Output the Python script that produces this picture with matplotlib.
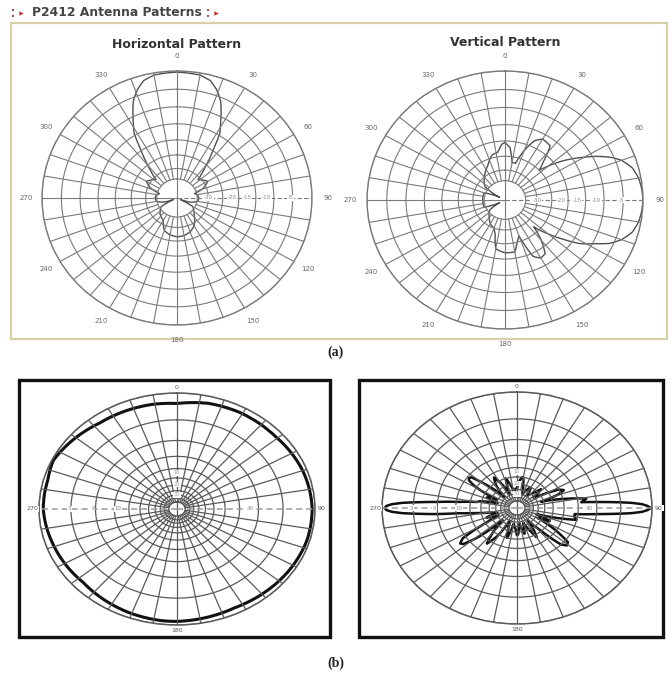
import matplotlib.pyplot as plt
import numpy as np
from matplotlib.path import Path
from matplotlib.patches import PathPatch

# antenna pattern data, (angle deg clockwise from top, gain dB)

# (a) left: horizontal pattern
h_ang = [0, 10, 15, 19, 23, 25, 28, 32, 35, 39, 42, 47, 52, 60, 68, 75, 82, 90,
         100, 108, 115, 120, 135, 150, 160, 170, 180, 190, 200, 210, 225, 240,
         245, 252, 260, 270, 278, 285, 292, 300, 308, 313, 318, 321, 325, 328,
         332, 335, 337, 341, 345, 350]
h_db = [-0.3, -0.6, -1.5, -3.4, -6, -8, -11, -14.5, -19.5, -24, -27, -31, -30,
        -28.5, -31, -36, -34.5, -34, -34.5, -38, -43, -36, -33, -29, -27.5,
        -26.7, -26.5, -27, -28, -31.5, -33, -36, -43, -38, -34.5, -34, -34.5,
        -36, -31, -28.5, -30, -31, -27, -24, -19.5, -14.5, -11, -8, -6, -3.4,
        -1.5, -0.6]

# (a) right: vertical pattern
v_ang = [0, 5, 10, 15, 20, 25, 30, 38, 43, 47, 50, 54, 60, 63, 67, 70, 75, 80,
         85, 90, 95, 100, 105, 110, 114, 117, 122, 126, 130, 135, 140, 145, 150,
         155, 160, 165, 170, 180, 190, 195, 200, 210, 220, 235, 242, 250, 270,
         290, 298, 305, 320, 335, 345, 352, 357]
v_db = [-20.5, -22, -27, -27, -22, -18, -16.5, -17, -22, -25, -22, -17.7, -12,
        -9, -5.5, -3.5, -1.5, -0.6, -0.2, 0, -0.2, -0.6, -1.5, -3.5, -6, -9,
        -13, -17.7, -22, -27, -22, -18, -17.5, -19, -27, -25, -22, -22, -23,
        -28, -30, -31, -33, -36, -42, -34, -34, -34, -42, -33, -30, -27, -24,
        -23.5, -21]

# (b) left
bl_ang = [0, 14, 29, 49, 70, 90, 106, 124, 154, 180, 187, 201, 227, 252, 270,
          285, 295, 323, 349]
bl_db = [-1.8, -1.2, -1.0, -1.0, -0.6, -0.4, -0.4, -0.6, -1.0, -0.6, -0.6,
         -0.8, -1.4, -1.0, -0.6, -0.6, -0.2, -1.4, -1.6]

# (b) right
br_ang = [0, 4, 8, 10, 13, 18, 24, 30, 35, 42, 48, 53, 58, 63, 66, 69, 73, 78,
          81, 84, 85, 86, 87, 88, 89, 90, 91, 92, 93, 94, 95, 97, 100, 103, 106,
          110, 115, 119, 124, 128, 131, 134, 138, 143, 148, 150, 153, 160, 166,
          172, 178, 180, 183, 190, 196, 200, 206, 211, 216, 220, 225, 229, 232,
          234, 237, 241, 246, 250, 254, 259, 262, 264, 265, 266, 267, 268, 269,
          270, 271, 272, 273, 274, 275, 277, 280, 282, 286, 292, 296, 301, 304,
          306, 308, 311, 316, 322, 327, 331, 336, 342, 346, 352, 356]
br_db = [-34, -28, -25, -25, -30, -40, -34, -30, -38, -34, -27, -36, -30, -20,
         -18.4, -21, -32, -18, -12.4, -14, -10, -6.2, -3.1, -1.4, -0.6, -0.2,
         -0.6, -1.4, -3.1, -6.2, -9.7, -16, -16, -15, -22, -36, -25, -33, -20,
         -14, -13.5, -15, -26, -38, -26, -23.5, -28, -38, -28, -38, -28, -27.5,
         -32, -38, -25, -32, -40, -24, -18.4, -24, -36, -18, -13, -12.4, -14,
         -26, -36, -27, -36, -30, -22, -16, -9.7, -6.2, -3.1, -1.4, -0.6, -0.4,
         -0.6, -1.4, -3.1, -6.2, -9.7, -16, -22.9, -24, -36, -27, -34, -19, -16,
         -15.6, -16, -22, -38, -26, -22, -27, -38, -25, -30, -38, -34]

angle_labels = ['0', '30', '60', '90', '120', '150', '180', '210', '240',
                '270', '300', '330']
top_rings_db = [-35, -30, -25, -20, -15, -10, -5, 0]
top_scale_labels = ['-30', '-20', '-15', '-10', '-5']
top_scale_pos = [-30, -22, -17.5, -12, -5.5]
bot_rings_db = [0, -5, -10, -15, -20, -25, -30, -35, -40, -45]
bot_left_labels = ['3', '6', '10']
bot_left_pos = [-4.7, -9.4, -16]
bot_up_labels = ['10', '20', '30']
bot_up_pos = [-22, -29.5, -40]


def r_top(db):
    db = np.asarray(db, dtype=float)
    x = np.clip((db + 35) / 35, 0, None)
    return np.where(db >= -35, 0.15 + 0.85 * x ** 1.2, 0.15 + 0.015 * (db + 35))


def r_bot(db):
    return 0.9 ** (-np.asarray(db, dtype=float) / 2)


W, H = 672, 675
fig = plt.figure(figsize=(W / 100, H / 100), dpi=100)
bg = fig.add_axes([0, 0, 1, 1])
bg.set_xlim(0, W)
bg.set_ylim(H, 0)
bg.axis('off')

# page decorations
bg.add_patch(plt.Rectangle((11, 23), 656, 316, fill=False, ec='#d8d1a8', lw=1.6))
bg.add_patch(plt.Rectangle((19, 380), 311, 257, fill=False, ec='#111111', lw=2.4))
bg.add_patch(plt.Rectangle((359, 380), 304, 257, fill=False, ec='#111111', lw=2.4))
bg.text(32, 13, 'P2412 Antenna Patterns', fontsize=8.9, fontweight='bold',
        color='#454545', va='center', ha='left')
for x0 in (13, 208):
    bg.scatter([x0, x0], [10, 16], s=4, color='#a05050', marker='s', lw=0)
    bg.scatter([x0 + 8], [13], s=10, color='#c03030', marker='>', lw=0)
bg.text(336, 352, '(a)', fontsize=10, fontweight='bold', family='Liberation Serif',
        ha='center', va='center', color='#222222')
bg.text(336, 663, '(b)', fontsize=10, fontweight='bold', family='Liberation Serif',
        ha='center', va='center', color='#222222')
bg.text(177, 44, 'Horizontal Pattern', fontsize=9, fontweight='bold',
        color='#333333', ha='center', va='center')
bg.text(505, 43, 'Vertical Pattern', fontsize=9, fontweight='bold',
        color='#333333', ha='center', va='center')

full = np.linspace(0, 2 * np.pi, 721)


def polar_at(cx, cy, rx, ry):
    ax = fig.add_axes([(cx - rx) / W, 1 - (cy + ry) / H, 2 * rx / W, 2 * ry / H],
                      projection='polar')
    ax.set_aspect('auto')
    ax.set_theta_zero_location('N')
    ax.set_theta_direction(-1)
    ax.set_ylim(0, 1)
    ax.set_xticks([])
    ax.set_yticks([])
    ax.grid(False)
    ax.set_facecolor('none')
    return ax


def grid(ax, rings, r_in, color, lw, labels_all, dashed_h):
    for r in rings:
        ax.plot(full, np.full_like(full, r), color=color, lw=lw)
    for a in range(0, 360, 10):
        t = np.radians(a)
        if a in (90, 270) and dashed_h:
            continue
        start = 0 if a % 90 == 0 else r_in
        if a == 90 and not dashed_h:
            ax.plot([t, t], [0, 1], color=color, lw=lw, ls=(0, (4, 2)))
            continue
        ax.plot([t, t], [start, 1], color=color, lw=lw)
    if dashed_h:
        for a in (90, 270):
            ax.plot([np.radians(a)] * 2, [0, 1], color='#9a9a9a', lw=1.1,
                    ls=(0, (4, 2.5)))
    ax.spines['polar'].set_color(color)
    ax.spines['polar'].set_linewidth(lw + 0.2)
    if labels_all:
        for i, s in enumerate(angle_labels):
            ax.text(np.radians(30 * i), 1.12, s, fontsize=5, color='#666666',
                    ha='center', va='center')
    else:
        for i in (0, 3, 6, 9):
            ax.text(np.radians(30 * i), 1.05, angle_labels[i], fontsize=4.5,
                    color='#555555', ha='center', va='center',
                    bbox=dict(fc='white', ec='none', pad=0.6))


def pattern(ax, a, d, f, color, lw):
    # polar path with arc interpolation between the read points
    t = np.radians(np.append(a, a[0] + 360))
    r = f(np.append(d, d[0]))
    path = Path(np.column_stack([t, r]), _interpolation_steps=40)
    ax.add_patch(PathPatch(path, fill=False, ec=color, lw=lw,
                           joinstyle='round', transform=ax.transData))


# (a) horizontal
ax1 = polar_at(177, 198, 135, 127)
grid(ax1, r_top(top_rings_db), 0.15, '#7a7a7a', 0.8, True, False)
for s, p in zip(top_scale_labels, top_scale_pos):
    ax1.text(np.radians(90), float(r_top(p)), s, fontsize=4, color='#888888',
             ha='center', va='center', bbox=dict(fc='white', ec='none', pad=0.5))
pattern(ax1, h_ang, h_db, r_top, '#505050', 1.0)

# (a) vertical
ax2 = polar_at(505, 200, 138, 129)
grid(ax2, r_top(top_rings_db), 0.15, '#7a7a7a', 0.8, True, False)
for s, p in zip(top_scale_labels, top_scale_pos):
    ax2.text(np.radians(90), float(r_top(p)), s, fontsize=4, color='#888888',
             ha='center', va='center', bbox=dict(fc='white', ec='none', pad=0.5))
pattern(ax2, v_ang, v_db, r_top, '#505050', 1.0)


def bottom_labels(ax):
    for s, p in zip(bot_left_labels, bot_left_pos):
        ax.text(np.radians(270), float(r_bot(p)), s, fontsize=4, color='#888888',
                ha='center', va='center', bbox=dict(fc='white', ec='none', pad=0.4))
    ax.text(np.radians(90), float(r_bot(-12)), '40', fontsize=4, color='#888888',
            ha='center', va='center', bbox=dict(fc='white', ec='none', pad=0.4))
    for s, p in zip(bot_up_labels, bot_up_pos):
        ax.text(0, float(r_bot(p)), s, fontsize=3.5, color='#999999',
                ha='center', va='center', bbox=dict(fc='white', ec='none', pad=0.3))
    ax.plot(full, np.full_like(full, 0.06), color='#555555', lw=0.9)


# (b) left
ax3 = polar_at(177, 509, 138, 116)
grid(ax3, r_bot(bot_rings_db), 0.06, '#5a5a5a', 0.9, False, True)
bottom_labels(ax3)
pattern(ax3, bl_ang, bl_db, r_bot, '#111111', 2.2)

# (b) right
ax4 = polar_at(517, 508, 135, 116)
grid(ax4, r_bot(bot_rings_db), 0.06, '#5a5a5a', 0.9, False, True)
bottom_labels(ax4)
pattern(ax4, br_ang, br_db, r_bot, '#111111', 1.8)

fig.savefig('out.png', dpi=100, facecolor='white')
